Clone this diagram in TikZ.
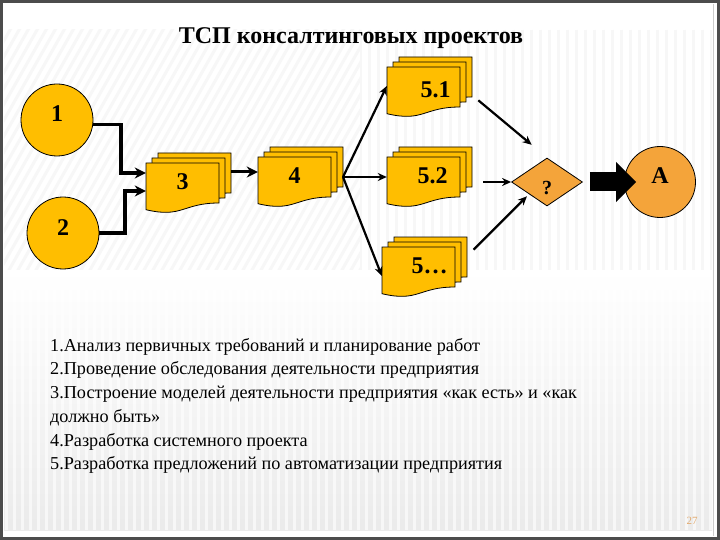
\documentclass[tikz,border=0pt]{standalone}
\usepackage{fontspec}
\setmainfont{Liberation Serif}
\usetikzlibrary{arrows.meta,shapes.geometric}

\definecolor{docyellow}{RGB}{255,190,0}
\definecolor{qorange}{RGB}{244,164,58}
\definecolor{pagenr}{RGB}{226,170,110}

\tikzset{
	sheet/.style={draw=black, line width=0.8pt, fill=docyellow},
	docnode/.style={draw=none, minimum width=73pt, minimum height=38pt, inner sep=0pt},
	stage/.style={circle, draw=black, line width=0.8pt, fill=docyellow, minimum size=72pt, inner sep=0pt},
	lbl/.style={font=\bfseries\fontsize{24}{24}\selectfont},
	link/.style={-{Stealth[length=11pt,width=11pt]}, line width=3.5pt},
	thinlink/.style={-{Stealth[length=9pt,width=8pt]}, line width=2.2pt},
	blockarrow/.style={-{Triangle[length=20pt,width=39pt]}, line width=19pt},
	stripe/.style={gray!6, line width=3pt},
}

% ein Blatt (Dokument mit Welle unten)
\newcommand{\docsheet}[2]{%
	\draw[sheet, shift={(#1,#2)}] (0,0) -- (73,0) -- (73,40) .. controls (36.5,40) and (36.5,55.4) .. (0,46.7) -- cycle;
}
% Stapel aus drei Blaettern: Name, linke obere Ecke des vorderen Blatts
\newcommand{\docstack}[3]{%
	\docsheet{#2+12}{#3-10}
	\docsheet{#2+6}{#3-5}
	\docsheet{#2}{#3}
	\node[docnode] (#1b) at (#2+48.5,#3+9) {};
	\node[docnode] (#1) at (#2+36.5,#3+19) {};
}

\begin{document}
\begin{tikzpicture}[x=1pt, y=-1pt]

\useasboundingbox (0,0) rectangle (720,540);

%Hintergrund
\fill[white] (0,0) rectangle (720,540);
\begin{scope}
	\clip (4,30) rectangle (360,300);
	\foreach \i in {0,9,...,560}{
		\draw[stripe] (\i-170,300) -- (\i,0);
	}
\end{scope}
\begin{scope}
	\clip (360,30) rectangle (712,300);
	\foreach \i in {360,369,...,712}{
		\draw[stripe] (\i,30) -- (\i,300);
	}
\end{scope}
\shade[top color=white, bottom color=gray!16] (4,270) rectangle (712,530);
\foreach \i in {6,14,...,712}{
	\draw[white, opacity=0.6, line width=3pt] (\i,290) -- (\i,530);
}
\draw[gray!40] (713,4) -- (713,536);
\draw[line width=3pt, black!70] (1.5,1.5) rectangle (718.5,538.5);

%Titel
\node[font=\bfseries\fontsize{24}{24}\selectfont] (title) at (351,38) {ТСП консалтинговых проектов};

%Kreise
\node[stage] (c1) at (57,120) {};
\node[lbl] at ([yshift=6pt]c1) {1};
\node[stage] (c2) at (63,233) {};
\node[lbl] at ([yshift=5pt]c2) {2};

%Dokumente
\docstack{d3}{146}{163}
\docstack{d4}{258}{157}
\docstack{d51}{387}{67}
\docstack{d52}{387}{157}
\docstack{d5x}{382}{247}

\node[lbl] at (d3) {3};
\node[lbl] at (d4) {4};
\node[lbl] at ([xshift=12pt,yshift=-4pt]d51) {5.1};
\node[lbl] at ([xshift=9pt]d52) {5.2};
\node[lbl] at ([xshift=11pt]d5x) {5…};

%Entscheidung und Ergebnis
\node[diamond, draw=black, line width=0.8pt, fill=qorange, minimum width=71pt, minimum height=48pt, inner sep=0pt] (q) at (547,182) {};
\node[lbl, font=\bfseries\fontsize{20}{20}\selectfont] at ([yshift=-6pt]q) {?};
\node[stage, fill=qorange, minimum size=71pt] (A) at (660,182) {};
\node[lbl] at ([yshift=6pt]A) {A};

%Pfeile
\coordinate (b1) at (121,173);
\coordinate (b2) at (125,191);
\coordinate (fan) at (343,177);

\draw[link] (c1.-7) -| (b1) -- (b1 -| d3.west);
\draw[link] (c2.east) -| (b2) -- (b2 -| d3.west);
\draw[link, line width=3pt] (d3b.east) -- (d3b.east -| d4.west);

\draw[thinlink] (fan) -- (d51.west);
\draw[thinlink] (fan) -- (fan -| d52.west);
\draw[thinlink] (fan) -- (d5x.195);

\draw[thinlink, shorten <=8pt, shorten >=20pt] (d51b.south east) -- (q.north);
\draw[thinlink, shorten <=11pt] (d52b.east |- q.west) -- (q.west);
\draw[thinlink, shorten <=9pt, shorten >=3pt] (d5xb.east) -- (q.south west);
\draw[blockarrow, shorten <=7pt] (q.east) -- ([xshift=12pt]A.west);

%Legende
\node[anchor=north west, align=left, inner sep=0pt, font=\fontsize{18.2}{23.7}\selectfont] (list) at (50,338) {1.Анализ первичных требований и планирование работ\\
2.Проведение обследования деятельности предприятия\\
3.Построение моделей деятельности предприятия «как есть» и «как\\
должно быть»\\
4.Разработка системного проекта\\
5.Разработка предложений по автоматизации предприятия};

\node[font=\fontsize{11}{11}\selectfont, text=pagenr] (page) at (692,521) {27};

\end{tikzpicture}
\end{document}
